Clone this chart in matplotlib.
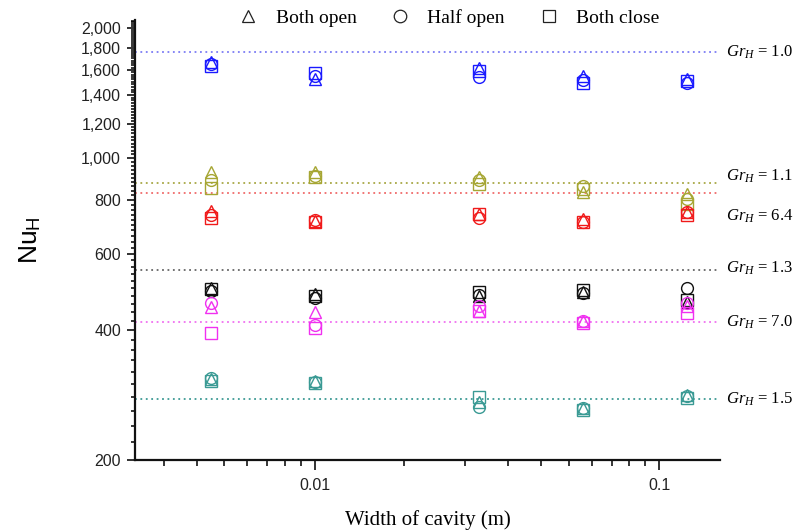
import matplotlib
matplotlib.use("Agg")
import numpy as np
import matplotlib.pyplot as plt
import matplotlib.transforms as mtransforms
from matplotlib.lines import Line2D
from matplotlib.ticker import FixedLocator, FuncFormatter, NullFormatter

plt.rcParams["font.family"] = ["Liberation Sans", "DejaVu Sans"]
plt.rcParams["mathtext.fontset"] = "custom"
plt.rcParams["mathtext.rm"] = "Liberation Serif"
plt.rcParams["mathtext.it"] = "Liberation Serif:italic"

# ---- data -------------------------------------------------------------
widths = [0.005, 0.01, 0.03, 0.06, 0.12]          # width of cavity (m)
gr_labels = ["1.0", "1.1", "6.4", "1.3", "7.0", "1.5"]
gr_reference = [1758, 875, 830, 551, 417, 277]     # reference Nu_H per Gr_H

both_open = [
    [1670, 1525, 1615, 1548, 1526],
    [928, 928, 904, 834, 826],
    [754, 715, 742, 722, 750],
    [500, 485, 480, 490, 464],
    [452, 440, 442, 419, 455],
    [308, 305, 272, 264, 283],
]
half_open = [
    [1650, 1550, 1540, 1516, 1492],
    [889, 908, 889, 862, 804],
    [738, 717, 726, 712, 750],
    [492, 474, 482, 488, 500],
    [461, 411, 455, 420, 461],
    [310, 303, 265, 264, 281],
]
both_close = [
    [1630, 1574, 1590, 1492, 1505],
    [853, 903, 871, 848, 782],
    [726, 712, 742, 712, 738],
    [497, 480, 490, 494, 469],
    [394, 404, 442, 416, 438],
    [305, 301, 280, 261, 278],
]
case_names = ["Both open", "Half open", "Both close"]

# ---- style ------------------------------------------------------------
marker_colors = ["#1a1aff", "#a6a633", "#f01a1a", "#111111", "#f030f0", "#3a9a94"]
line_colors = ["#7c7cf5", "#a8a845", "#f06a6a", "#666666", "#f070f0", "#3d9a94"]
label_dy = [0, 5, -17, 1, 0, 0]   # vertical nudge of the Gr_H labels (points)

fig = plt.figure(figsize=(7.97, 5.32), dpi=100)
ax = fig.add_axes([135 / 797, 1 - 460 / 532, 585 / 797, 440 / 532])
ax.set_xscale("log")
ax.set_yscale("log")
ax.set_xlim(0.003, 0.15)
ax.set_ylim(200, 2087)

for i, ref in enumerate(gr_reference):
    ax.axhline(ref, color=line_colors[i], ls=(0, (1, 2)), lw=1.3, zorder=1)

mk = dict(ls="none", mfc="none", ms=8.5, mew=1.0, zorder=3)
for i in range(len(gr_reference)):
    c = marker_colors[i]
    ax.plot(widths, both_open[i], marker="^", mec=c, **mk)
    ax.plot(widths, half_open[i], marker="o", mec=c, **mk)
    ax.plot(widths, both_close[i], marker="s", mec=c, **mk)

# Gr_H labels to the right of the axes
blend = mtransforms.blended_transform_factory(ax.transAxes, ax.transData)
for i, ref in enumerate(gr_reference):
    tr = blend + mtransforms.ScaledTranslation(0, label_dy[i] / 72, fig.dpi_scale_trans)
    ax.text(1.01, ref, r"$Gr_H$" + " = " + gr_labels[i], transform=tr,
            ha="left", va="center", fontsize=12, family="Liberation Serif",
            clip_on=False)

# axes styling
for side in ("top", "right"):
    ax.spines[side].set_visible(False)
for side in ("left", "bottom"):
    ax.spines[side].set_linewidth(1.6)
    ax.spines[side].set_color("#111111")

ax.yaxis.set_major_locator(FixedLocator(np.arange(200, 2001, 200)))
ax.yaxis.set_major_formatter(FuncFormatter(lambda v, p: f"{v:,.0f}"))
ax.yaxis.set_minor_locator(FixedLocator([v for v in np.arange(220, 2087, 20) if v % 200]))
ax.yaxis.set_minor_formatter(NullFormatter())

ax.xaxis.set_major_locator(FixedLocator([0.01, 0.1]))
ax.xaxis.set_major_formatter(FuncFormatter(lambda v, p: f"{v:g}"))
xminor = [d * k / 11 for d in (0.01, 0.1) for k in range(2, 11)]
ax.xaxis.set_minor_locator(FixedLocator([v for v in xminor if 0.003 < v < 0.15]))
ax.xaxis.set_minor_formatter(NullFormatter())

ax.tick_params(axis="both", which="major", direction="out", length=6, width=1.3,
               labelsize=11.5, colors="#222222")
ax.tick_params(axis="both", which="minor", direction="out", length=3, width=1.1)
ax.tick_params(axis="y", which="major", pad=4)
ax.tick_params(axis="x", which="major", length=7, pad=6)
ax.tick_params(axis="x", which="minor", length=4)

ax.set_xlabel("Width of cavity (m)", family="Liberation Serif", fontsize=15, labelpad=12)
fig.text(30 / 797, 1 - 240 / 532, r"Nu$_\mathregular{H}$", rotation=90,
         ha="center", va="center", fontsize=19, family="Liberation Sans")

handles = [Line2D([], [], ls="none", marker=m, mfc="none", mec="#222222", ms=9, mew=0.9)
           for m in ("^", "o", "s")]
fig.legend(handles, case_names, ncol=3, loc="center", bbox_to_anchor=(0.562, 0.966),
           frameon=False, prop=dict(family="Liberation Serif", size=14),
           handletextpad=0.8, columnspacing=1.65, handlelength=1.2)

fig.savefig("out.png", dpi=100)
